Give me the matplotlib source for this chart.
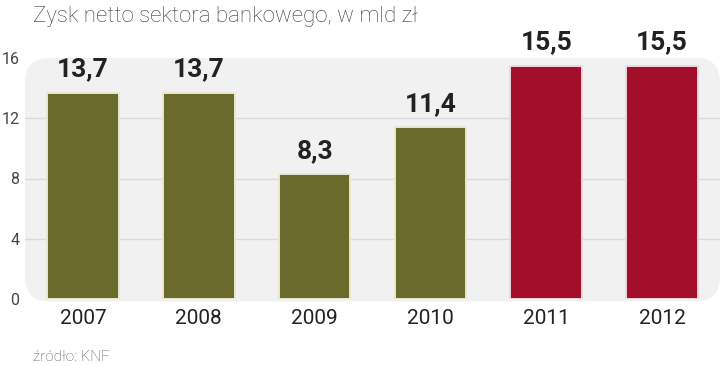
import matplotlib
matplotlib.use("Agg")
import matplotlib.pyplot as plt
from matplotlib.patches import FancyBboxPatch
from matplotlib import font_manager as fm

names = {f.name for f in fm.fontManager.ttflist}
def pick(*cands):
    for c in cands:
        if c in names:
            return c
    return "DejaVu Sans"

light_font = pick("Roboto", "Lato", "Open Sans", "DejaVu Sans")
narrow_bold = pick("Liberation Sans Narrow", "DejaVu Sans Condensed", "Roboto", "DejaVu Sans")

years = ["2007", "2008", "2009", "2010", "2011", "2012"]
values = [13.7, 13.7, 8.3, 11.4, 15.5, 15.5]
labels = ["13,7", "13,7", "8,3", "11,4", "15,5", "15,5"]
colors = ["#6a6a2c", "#6a6a2c", "#6a6a2c", "#6a6a2c", "#a30f2b", "#a30f2b"]
edges = ["#ebe8d2", "#ebe8d2", "#ebe8d2", "#ebe8d2", "#efd9dd", "#efd9dd"]
yticks = [0, 4, 8, 12, 16]

fig = plt.figure(figsize=(7.2, 3.66), dpi=100)
ax = fig.add_axes([25/720, 67/366, 695/720, 241/366])
ax.set_xlim(-0.5, 5.5)
ax.set_ylim(0, 16)
ax.patch.set_visible(False)

bg = FancyBboxPatch((0, -0.01), 1, 1.01, boxstyle="round,pad=0,rounding_size=0.035",
                    mutation_aspect=695/241, transform=ax.transAxes,
                    facecolor="#f1f1f1", edgecolor="none", zorder=0, clip_on=False)
ax.add_patch(bg)

for t in yticks[1:-1]:
    ax.axhline(t, color="#dadada", lw=1, zorder=1)

x = list(range(len(years)))
bars = ax.bar(x, values, width=0.62, color=colors, edgecolor=edges, linewidth=1.4, zorder=2)

for xi, v, lab in zip(x, values, labels):
    ax.annotate(lab, (xi, v), xytext=(0, 8), textcoords="offset points",
                ha="center", va="bottom", fontsize=19, fontweight="bold",
                family=narrow_bold, color="#222222", zorder=3)

ax.set_xticks(x)
ax.set_xticklabels(years, fontsize=15, family=light_font, color="#222222")
ax.set_yticks(yticks)
ax.set_yticklabels([str(t) for t in yticks], fontsize=11.5, family=light_font, color="#444444")
ax.tick_params(axis="both", length=0)
ax.tick_params(axis="x", pad=7)
ax.tick_params(axis="y", pad=4)
for s in ax.spines.values():
    s.set_visible(False)

fig.text(33/720, 1 - 22/366, "Zysk netto sektora bankowego, w mld zł", fontsize=16,
         family=light_font, fontweight="light", color="#3a3a3a", ha="left", va="baseline")
fig.text(33/720, 1 - 361/366, "źródło: KNF", fontsize=11, family=light_font,
         fontweight="light", color="#555555", ha="left", va="baseline")

fig.savefig("out.png", dpi=100)
